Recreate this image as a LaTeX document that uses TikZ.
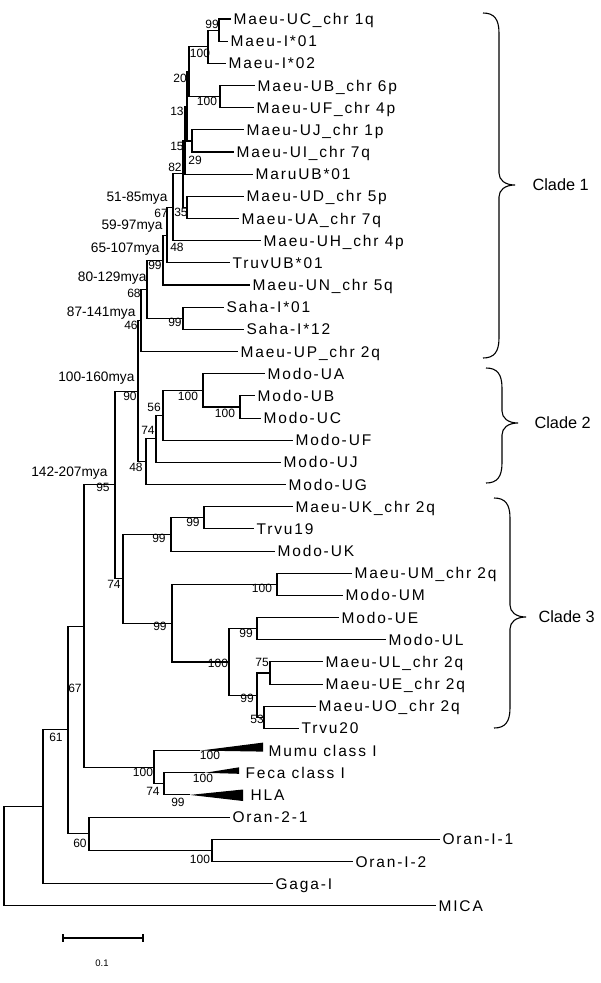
\documentclass[tikz,border=0pt]{standalone}
\usepackage{fontspec}
\setmainfont{Liberation Sans}
\newfontfamily\tipfamily[LetterSpace=12]{Liberation Sans}
\newcommand\cladebrace[4]{\draw (#1,#2) .. controls (#1+11,#2) and (#1+16,#2+6) .. (#1+16,#2+20) -- (#1+16,#3-12) .. controls (#1+16,#3-5) and (#1+22,#3) .. (#1+32,#3) .. controls (#1+22,#3) and (#1+16,#3+5) .. (#1+16,#3+12) -- (#1+16,#4-20) .. controls (#1+16,#4-6) and (#1+11,#4) .. (#1,#4);}
\begin{document}
\begin{tikzpicture}[x=1pt,y=-1pt,line width=1.1pt,
  tip/.style={anchor=west,inner xsep=2.5pt,inner ysep=0pt,text height=11.1pt,text depth=0pt,font=\tipfamily\fontsize{15.5}{18}\selectfont},
  bs/.style={inner sep=0pt,text height=8.6pt,text depth=0pt,font=\fontsize{12}{14}\selectfont},
  mya/.style={anchor=east,inner sep=0pt,text height=9.8pt,text depth=0pt,font=\fontsize{13.7}{16}\selectfont},
  clade/.style={anchor=west,inner sep=0pt,text height=11.6pt,text depth=0pt,font=\fontsize{16.3}{19}\selectfont}]
\useasboundingbox (0,0) rectangle (600,983);
% ---------- tips ----------
\node[tip] (UC) at (230.5,19.0) {Maeu-UC\_chr 1q};
\node[tip] (I01) at (227.5,41.2) {Maeu-I*01};
\node[tip] (I02) at (225.5,63.3) {Maeu-I*02};
\node[tip] (UB) at (254.5,85.5) {Maeu-UB\_chr 6p};
\node[tip] (UF) at (253.5,107.7) {Maeu-UF\_chr 4p};
\node[tip] (UJ) at (243.5,129.9) {Maeu-UJ\_chr 1p};
\node[tip] (UI) at (233.5,152.0) {Maeu-UI\_chr 7q};
\node[tip] (MaruUB) at (252.5,174.2) {MaruUB*01};
\node[tip] (UD) at (243.5,196.4) {Maeu-UD\_chr 5p};
\node[tip] (UA) at (238.5,218.5) {Maeu-UA\_chr 7q};
\node[tip] (UH) at (260.5,240.7) {Maeu-UH\_chr 4p};
\node[tip] (TruvUB) at (229.5,262.9) {TruvUB*01};
\node[tip] (UN) at (249.5,285.0) {Maeu-UN\_chr 5q};
\node[tip] (Saha1) at (223.5,307.2) {Saha-I*01};
\node[tip] (Saha12) at (243.5,329.4) {Saha-I*12};
\node[tip] (UP) at (237.5,351.6) {Maeu-UP\_chr 2q};
\node[tip] (MUA) at (264.5,373.7) {Modo-UA};
\node[tip] (MUB) at (254.5,395.9) {Modo-UB};
\node[tip] (MUC) at (260.5,418.1) {Modo-UC};
\node[tip] (MUF) at (292.5,440.2) {Modo-UF};
\node[tip] (MUJ) at (280.5,462.4) {Modo-UJ};
\node[tip] (MUG) at (285.5,484.6) {Modo-UG};
\node[tip] (UK) at (292.5,506.7) {Maeu-UK\_chr 2q};
\node[tip] (T19) at (253.5,528.9) {Trvu19};
\node[tip] (MUK) at (274.5,551.1) {Modo-UK};
\node[tip] (UM) at (351.5,573.3) {Maeu-UM\_chr 2q};
\node[tip] (MUM) at (342.5,595.4) {Modo-UM};
\node[tip] (MUE) at (338.5,617.6) {Modo-UE};
\node[tip] (MUL) at (385.5,639.8) {Modo-UL};
\node[tip] (UL) at (322.5,661.9) {Maeu-UL\_chr 2q};
\node[tip] (UE) at (322.5,684.1) {Maeu-UE\_chr 2q};
\node[tip] (UO) at (315.5,706.3) {Maeu-UO\_chr 2q};
\node[tip] (T20) at (298.5,728.4) {Trvu20};
\node[tip] (Mumu) at (265.5,750.6) {Mumu class I};
\node[tip] (Feca) at (242.5,772.8) {Feca class I};
\node[tip] (HLA) at (247.5,794.9) {HLA};
\node[tip] (O21) at (229.5,817.1) {Oran-2-1};
\node[tip] (OI1) at (439.5,839.3) {Oran-I-1};
\node[tip] (OI2) at (352.5,861.5) {Oran-I-2};
\node[tip] (Gaga) at (272.5,883.6) {Gaga-I};
\node[tip] (MICA) at (435.5,905.8) {MICA};
% ---------- internal nodes ----------
\coordinate (a) at (219,30.1);
\coordinate (b) at (208,46.7);
\coordinate (c) at (220,96.6);
\coordinate (d) at (189,71.65);
\coordinate (e) at (192,140.95);
\coordinate (f) at (187,106.3);
\coordinate (g) at (185,140.25);
\coordinate (h) at (187,207.45);
\coordinate (i) at (183,173.85);
\coordinate (j) at (173,207.3);
\coordinate (k) at (167,235.1);
\coordinate (l) at (163,260.05);
\coordinate (m) at (183,318.3);
\coordinate (n) at (147,289.2);
\coordinate (o) at (141,320.4);
\coordinate (p) at (240,407);
\coordinate (q) at (203,390.35);
\coordinate (r) at (163,415.3);
\coordinate (s) at (156,438.85);
\coordinate (t) at (146,461.7);
\coordinate (u) at (138,391.05);
\coordinate (v) at (204,517.8);
\coordinate (w) at (171,534.45);
\coordinate (x1) at (277,584.35);
\coordinate (x2) at (257,628.7);
\coordinate (x3) at (270,673);
\coordinate (x4) at (264,717.35);
\coordinate (x5) at (257,695.2);
\coordinate (x6) at (229,661.95);
\coordinate (x7) at (172,623.15);
\coordinate (x8) at (123,578.8);
\coordinate (y1) at (115,484.9);
\coordinate (z1) at (164,783.85);
\coordinate (z2) at (154,767.2);
\coordinate (z3) at (84,626.05);
\coordinate (o1) at (212,850.4);
\coordinate (o2) at (89,833.75);
\coordinate (z4) at (68,729.9);
\coordinate (r1) at (43,806.75);
\coordinate (root) at (4,856.3);
\coordinate (mumuT) at (200,750.6);
\coordinate (fecaT) at (205,772.8);
\coordinate (hlaT) at (190,794.9);
% ---------- branches ----------
\draw (a) |- (UC.west); \draw (a) |- (I01.west);
\draw (b) |- (a); \draw (b) |- (I02.west);
\draw (c) |- (UB.west); \draw (c) |- (UF.west);
\draw (d) |- (b); \draw (d) |- (c);
\draw (e) |- (UJ.west); \draw (e) |- (UI.west);
\draw (f) |- (d); \draw (f) |- (e);
\draw (g) |- (f); \draw (g) |- (MaruUB.west);
\draw (h) |- (UD.west); \draw (h) |- (UA.west);
\draw (i) |- (g); \draw (i) |- (h);
\draw (j) |- (i); \draw (j) |- (UH.west);
\draw (k) |- (j); \draw (k) |- (TruvUB.west);
\draw (l) |- (k); \draw (l) |- (UN.west);
\draw (m) |- (Saha1.west); \draw (m) |- (Saha12.west);
\draw (n) |- (l); \draw (n) |- (m);
\draw (o) |- (n); \draw (o) |- (UP.west);
\draw (p) |- (MUB.west); \draw (p) |- (MUC.west);
\draw (q) |- (MUA.west); \draw (q) |- (p);
\draw (r) |- (q); \draw (r) |- (MUF.west);
\draw (s) |- (r); \draw (s) |- (MUJ.west);
\draw (t) |- (s); \draw (t) |- (MUG.west);
\draw (u) |- (o); \draw (u) |- (t);
\draw (v) |- (UK.west); \draw (v) |- (T19.west);
\draw (w) |- (v); \draw (w) |- (MUK.west);
\draw (x1) |- (UM.west); \draw (x1) |- (MUM.west);
\draw (x2) |- (MUE.west); \draw (x2) |- (MUL.west);
\draw (x3) |- (UL.west); \draw (x3) |- (UE.west);
\draw (x4) |- (UO.west); \draw (x4) |- (T20.west);
\draw (x5) |- (x3); \draw (x5) |- (x4);
\draw (x6) |- (x2); \draw (x6) |- (x5);
\draw (x7) |- (x1); \draw (x7) |- (x6);
\draw (x8) |- (w); \draw (x8) |- (x7);
\draw (y1) |- (u); \draw (y1) |- (x8);
\draw (z1) |- (fecaT); \draw (z1) |- (hlaT);
\draw (z2) |- (mumuT); \draw (z2) |- (z1);
\draw (z3) |- (y1); \draw (z3) |- (z2);
\draw (o1) |- (OI1.west); \draw (o1) |- (OI2.west);
\draw (o2) |- (O21.west); \draw (o2) |- (o1);
\draw (z4) |- (z3); \draw (z4) |- (o2);
\draw (r1) |- (z4); \draw (r1) |- (Gaga.west);
\draw (root) |- (r1); \draw (root) |- (MICA.west);
% collapsed subtrees
\fill (mumuT) -- (263,742.6) -- (263,751.6) -- cycle;
\fill (fecaT) -- (239,767.3) -- (239,773.8) -- cycle;
\fill (hlaT) -- (243,789.5) -- (243,801) -- cycle;
% ---------- bootstrap values ----------
\node[bs] (bs1) at (212,24) {99};
\node[bs] (bs2) at (200,53) {100};
\node[bs] (bs3) at (180,78) {20};
\node[bs] (bs4) at (207,101) {100};
\node[bs] (bs5) at (177,111) {13};
\node[bs] (bs6) at (177,146) {15};
\node[bs] (bs7) at (195,160) {29};
\node[bs] (bs8) at (175,167) {82};
\node[bs] (bs9) at (181,212) {35};
\node[bs] (bs10) at (161,213) {67};
\node[bs] (bs11) at (177,247) {48};
\node[bs] (bs12) at (155,265) {99};
\node[bs] (bs13) at (134,293) {68};
\node[bs] (bs14) at (175,322) {99};
\node[bs] (bs15) at (131,325) {46};
\node[bs] (bs16) at (130,396) {90};
\node[bs] (bs17) at (188,396) {100};
\node[bs] (bs18) at (225,413) {100};
\node[bs] (bs19) at (154,407) {56};
\node[bs] (bs20) at (148,430) {74};
\node[bs] (bs21) at (136,467) {48};
\node[bs] (bs22) at (103,487) {95};
\node[bs] (bs23) at (193,522) {99};
\node[bs] (bs24) at (159,538) {99};
\node[bs] (bs25) at (114,584) {74};
\node[bs] (bs26) at (262,588) {100};
\node[bs] (bs27) at (160,626) {99};
\node[bs] (bs28) at (246,633) {99};
\node[bs] (bs29) at (262,662) {75};
\node[bs] (bs30) at (218,663) {100};
\node[bs] (bs31) at (247,698) {99};
\node[bs] (bs32) at (257,719) {53};
\node[bs] (bs33) at (75,688) {67};
\node[bs] (bs34) at (56,737) {61};
\node[bs] (bs35) at (210,755) {100};
\node[bs] (bs36) at (143,772) {100};
\node[bs] (bs37) at (203,778) {100};
\node[bs] (bs38) at (153,791) {74};
\node[bs] (bs39) at (178,802) {99};
\node[bs] (bs40) at (80,843) {60};
\node[bs] (bs41) at (200,859) {100};
% ---------- divergence times ----------
\node[mya] (t1) at (168,197) {51-85mya};
\node[mya] (t2) at (163,225) {59-97mya};
\node[mya] (t3) at (160,248) {65-107mya};
\node[mya] (t4) at (147,277) {80-129mya};
\node[mya] (t5) at (136,312) {87-141mya};
\node[mya] (t6) at (135,377) {100-160mya};
\node[mya] (t7) at (108,472) {142-207mya};
% ---------- clade braces ----------
\cladebrace{483}{13}{185}{358}
\cladebrace{486}{368}{423}{483}
\cladebrace{494}{498}{617}{728}
\node[clade] (c1) at (532,185) {Clade 1};
\node[clade] (c2) at (534,423) {Clade 2};
\node[clade] (c3) at (538,617) {Clade 3};
% ---------- scale bar ----------
\draw (63,938) -- (143,938);
\draw (63,934) -- (63,942);
\draw (143,934) -- (143,942);
\node[inner sep=0pt,font=\fontsize{9.5}{11}\selectfont] (sc) at (102,963) {0.1};
\end{tikzpicture}
\end{document}
